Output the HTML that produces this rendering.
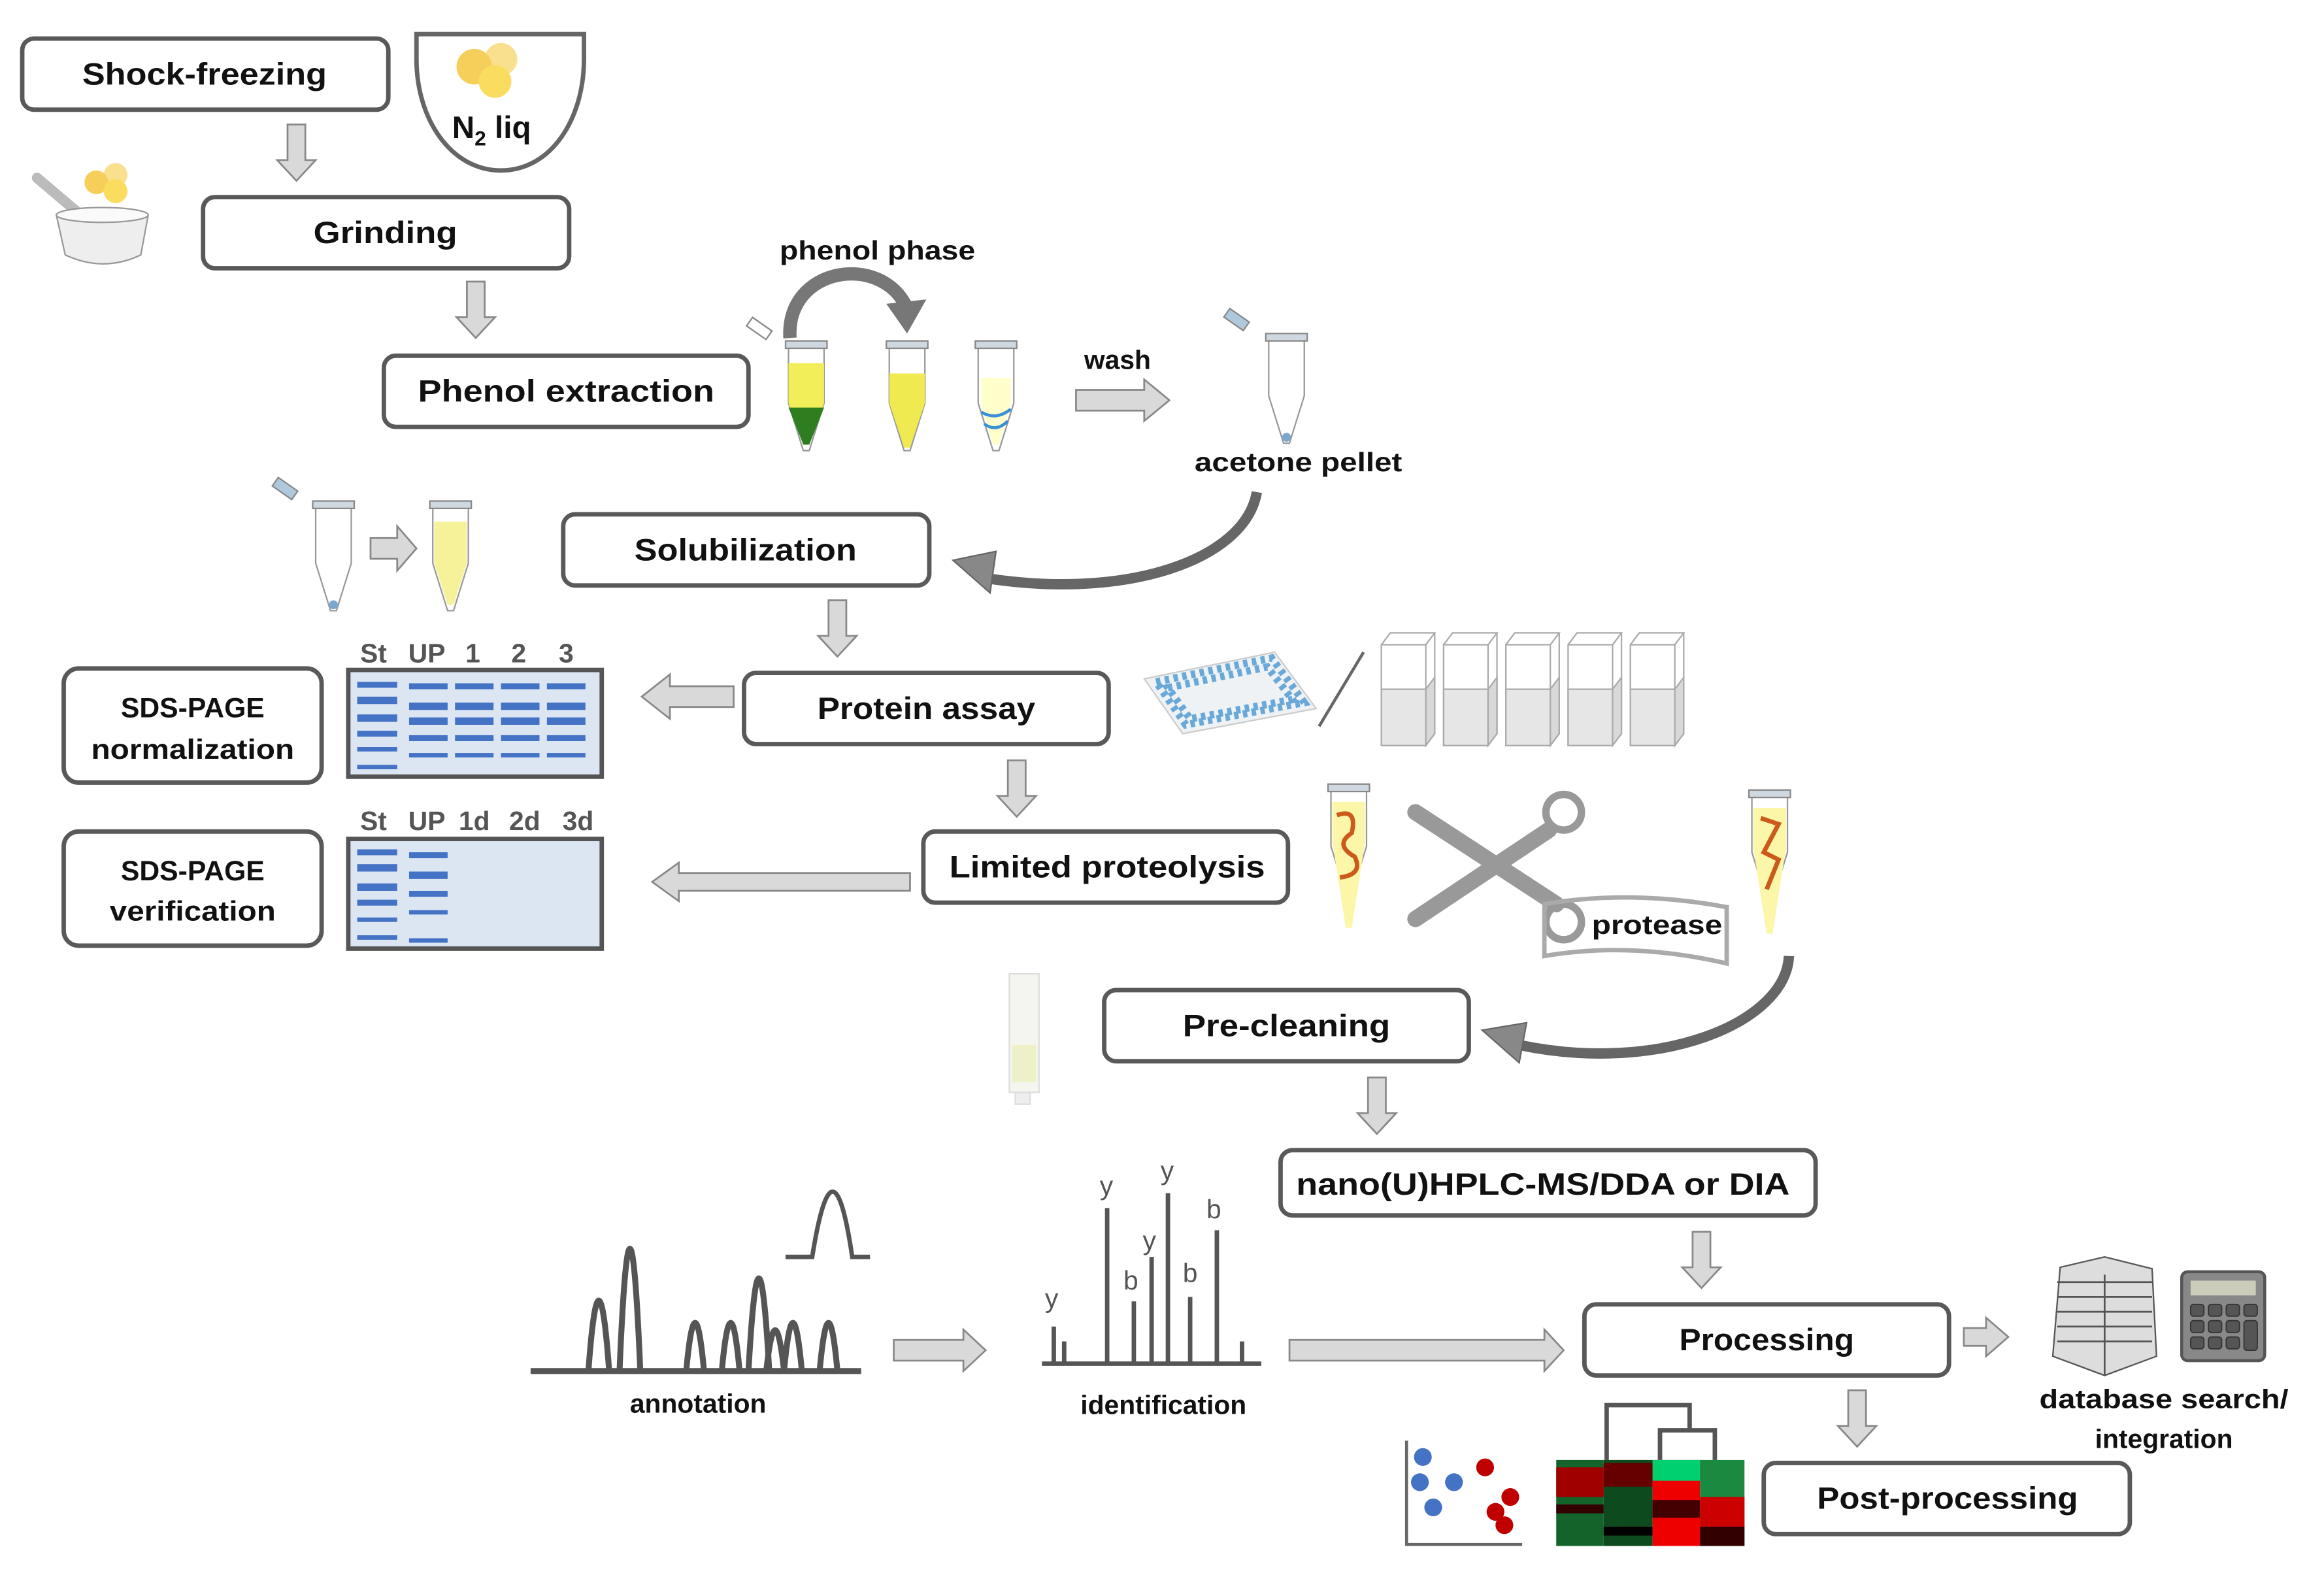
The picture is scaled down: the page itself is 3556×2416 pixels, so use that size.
<!DOCTYPE html>
<html><head><meta charset="utf-8"><style>html,body{margin:0;padding:0;background:#fff}svg{display:block}</style></head><body>
<svg xmlns="http://www.w3.org/2000/svg" width="3556" height="2416" viewBox="0 0 1568 1065.3" preserveAspectRatio="none" font-family="Liberation Sans, sans-serif">
<defs>
<g id="tube"><path d="M-12,0 L12,0 L12,38 L2,70 L-2,70 L-12,38 Z" fill="#fff" stroke="#999" stroke-width="1"/><rect x="-14" y="-4" width="28" height="5" fill="#cfd8e0" stroke="#888" stroke-width="1"/></g>
</defs>
<rect width="1568" height="1066" fill="#fff"/>
<g fill="#fff" stroke="#595959" stroke-width="3">
<rect x="15" y="26" width="247" height="48" rx="8"/>
<rect x="137" y="133" width="247" height="48" rx="8"/>
<rect x="259" y="240" width="246" height="48" rx="8"/>
<rect x="380" y="347" width="247" height="48" rx="8"/>
<rect x="502" y="454" width="246" height="48" rx="8"/>
<rect x="623" y="561" width="246" height="48" rx="8"/>
<rect x="745" y="668" width="246" height="48" rx="8"/>
<rect x="864" y="776" width="361" height="44" rx="8"/>
<rect x="1069" y="880" width="246" height="48" rx="8"/>
<rect x="1190" y="987" width="247" height="48" rx="8"/>
<rect x="43" y="451" width="174" height="77" rx="10"/>
<rect x="43" y="561" width="174" height="77" rx="10"/>
</g>
<g font-weight="bold" font-size="21" text-anchor="middle" fill="#111">
<text x="138" y="57" textLength="165" lengthAdjust="spacingAndGlyphs">Shock-freezing</text>
<text x="260" y="164" textLength="97" lengthAdjust="spacingAndGlyphs">Grinding</text>
<text x="382" y="271" textLength="200" lengthAdjust="spacingAndGlyphs">Phenol  extraction</text>
<text x="503" y="378" textLength="150" lengthAdjust="spacingAndGlyphs">Solubilization</text>
<text x="625" y="485" textLength="147" lengthAdjust="spacingAndGlyphs">Protein assay</text>
<text x="747" y="592" textLength="213" lengthAdjust="spacingAndGlyphs">Limited proteolysis</text>
<text x="868" y="699" textLength="140" lengthAdjust="spacingAndGlyphs">Pre-cleaning</text>
<text x="1041" y="806" textLength="333" lengthAdjust="spacingAndGlyphs">nano(U)HPLC-MS/DDA or DIA</text>
<text x="1192" y="911" textLength="118" lengthAdjust="spacingAndGlyphs">Processing</text>
<text x="1314" y="1018" textLength="176" lengthAdjust="spacingAndGlyphs">Post-processing</text>
<g font-size="19"><text x="130" y="484" textLength="97" lengthAdjust="spacingAndGlyphs">SDS-PAGE</text><text x="130" y="512" textLength="137" lengthAdjust="spacingAndGlyphs">normalization</text>
<text x="130" y="594" textLength="97" lengthAdjust="spacingAndGlyphs">SDS-PAGE</text><text x="130" y="621" textLength="112" lengthAdjust="spacingAndGlyphs">verification</text></g>
<g font-size="18"><text x="592" y="175" textLength="132" lengthAdjust="spacingAndGlyphs">phenol phase</text>
<text x="754" y="249">wash</text>
<text x="876" y="318" textLength="140" lengthAdjust="spacingAndGlyphs">acetone pellet</text>
<text x="1118" y="630" textLength="88" lengthAdjust="spacingAndGlyphs">protease</text>
<text x="471" y="953">annotation</text>
<text x="785" y="954">identification</text>
<text x="1460" y="950" textLength="168" lengthAdjust="spacingAndGlyphs">database search/</text>
<text x="1460" y="977">integration</text></g>
</g>
<g fill="#d9d9d9" stroke="#888" stroke-width="1.2">
<path d="M-6,0 H6 V24 H13 L0,38 L-13,24 H-6 Z" transform="translate(200,84)"/>
<path d="M-6,0 H6 V24 H13 L0,38 L-13,24 H-6 Z" transform="translate(321,190)"/>
<path d="M-6,0 H6 V24 H13 L0,38 L-13,24 H-6 Z" transform="translate(565,405)"/>
<path d="M-6,0 H6 V24 H13 L0,38 L-13,24 H-6 Z" transform="translate(686,513)"/>
<path d="M-6,0 H6 V24 H13 L0,38 L-13,24 H-6 Z" transform="translate(929,727)"/>
<path d="M-6,0 H6 V24 H13 L0,38 L-13,24 H-6 Z" transform="translate(1148,831)"/>
<path d="M-6,0 H6 V24 H13 L0,38 L-13,24 H-6 Z" transform="translate(1253,938)"/>
<path d="M250,363 H268 V355 L281,370 L268,385 V377 H250 Z"/>
<path d="M726,263 H772 V256 L789,270 L772,284 V277 H726 Z"/>
<path d="M603,904 H650 V897 L665,911 L650,925 V918 H603 Z"/>
<path d="M870,904 H1042 V897 L1055,911 L1042,925 V918 H870 Z"/>
<path d="M1325,896 H1340 V889 L1355,902 L1340,915 V908 H1325 Z"/>
<path d="M495,463 H452 V455 L433,470 L452,485 V477 H495 Z"/>
<path d="M614,589 H458 V582 L440,595 L458,608 V601 H614 Z"/>
</g>
<path d="M281,23 H394 V40 C394,80 372,115 338,115 C304,115 281,80 281,40 Z" fill="#fff" stroke="#666" stroke-width="3"/>
<circle cx="338" cy="40" r="11" fill="#f8e08e"/><circle cx="320" cy="45" r="12" fill="#f5cf5a"/><circle cx="334" cy="55" r="11" fill="#fadc5e"/>
<text x="305" y="93" font-weight="bold" font-size="21" fill="#111">N<tspan font-size="14" dy="5">2</tspan><tspan dy="-5"> liq</tspan></text>
<line x1="25" y1="120" x2="58" y2="148" stroke="#bbb" stroke-width="7" stroke-linecap="round"/>
<path d="M38,145 H100 L95,172 Q70,184 44,172 Z" fill="#eee" stroke="#999"/>
<ellipse cx="69" cy="145" rx="31" ry="5" fill="#fafafa" stroke="#999"/>
<circle cx="78" cy="118" r="8" fill="#f8e08e"/><circle cx="65" cy="123" r="8" fill="#f5cf5a"/><circle cx="78" cy="129" r="8" fill="#fadc5e"/>
<use href="#tube" x="544" y="234"/><path d="M532,245 H556 V272 L546,300 H542 L532,272 Z" fill="#f1ee5a"/><path d="M532,275 H556 L546,300 H542 Z" fill="#2e7d1f"/>
<rect x="504" y="218" width="16" height="7" fill="#fff" stroke="#888" transform="rotate(35 512 222)"/>
<use href="#tube" x="612" y="234"/><path d="M600,252 H624 V272 L614,302 H610 L600,272 Z" fill="#eeea50"/>
<use href="#tube" x="672" y="234"/><path d="M662,255 H682 V272 L674,300 H670 L662,272 Z" fill="#ffffcc"/><path d="M662,278 Q672,284 682,276 M664,286 Q672,292 680,284" stroke="#3b8fd6" stroke-width="2" fill="none"/>
<path d="M533,228 C530,180 595,170 612,208" stroke="#777" stroke-width="9" fill="none"/><path d="M598,205 L612,225 L625,202 Z" fill="#777"/>
<use href="#tube" x="868" y="229"/><ellipse cx="868" cy="295" rx="3" ry="3" fill="#7ba7cf"/><rect x="826" y="212" width="16" height="7" fill="#b0c8dc" stroke="#888" transform="rotate(35 834 216)"/>
<path d="M848,332 C840,378 760,405 665,390" stroke="#666" stroke-width="7" fill="none"/><path d="M643,378 L672,372 L668,400 Z" fill="#888" stroke="#666"/>
<use href="#tube" x="225" y="342"/><ellipse cx="225" cy="408" rx="3" ry="3" fill="#7ba7cf"/><rect x="184" y="326" width="16" height="7" fill="#b0c8dc" stroke="#888" transform="rotate(35 192 330)"/>
<use href="#tube" x="304" y="342"/><path d="M293,352 H315 V380 L306,408 H302 L293,380 Z" fill="#f6f29a"/>
<g stroke="#555" stroke-width="3" fill="#dce6f2"><rect x="235" y="452" width="171" height="72"/><rect x="235" y="566" width="171" height="74"/></g>
<g fill="#4472c4">
<rect x="241" y="460" width="27" height="4"/><rect x="241" y="470" width="27" height="5"/><rect x="241" y="482" width="27" height="5"/><rect x="241" y="493" width="27" height="4"/><rect x="241" y="504" width="27" height="3"/><rect x="241" y="516" width="27" height="3"/>
<g id="ln"><rect x="276" y="461" width="26" height="4"/><rect x="276" y="474" width="26" height="5"/><rect x="276" y="484" width="26" height="5"/><rect x="276" y="496" width="26" height="4"/><rect x="276" y="508" width="26" height="3"/></g>
<use href="#ln" x="31"/><use href="#ln" x="62"/><use href="#ln" x="93"/>
<rect x="241" y="573" width="27" height="4"/><rect x="241" y="583" width="27" height="5"/><rect x="241" y="596" width="27" height="5"/><rect x="241" y="607" width="27" height="4"/><rect x="241" y="619" width="27" height="3"/><rect x="241" y="631" width="27" height="3"/>
<rect x="276" y="575" width="26" height="4"/><rect x="276" y="588" width="26" height="5"/><rect x="276" y="601" width="26" height="4"/><rect x="276" y="614" width="26" height="3"/><rect x="276" y="633" width="26" height="3"/>
</g>
<g font-size="18" font-weight="bold" fill="#555" text-anchor="middle">
<text x="252" y="447">St</text><text x="288" y="447">UP</text><text x="319" y="447">1</text><text x="350" y="447">2</text><text x="382" y="447">3</text>
<text x="252" y="560">St</text><text x="288" y="560">UP</text><text x="320" y="560">1d</text><text x="354" y="560">2d</text><text x="390" y="560">3d</text>
</g>
<path d="M772,458 L860,440 L888,478 L798,495 Z" fill="#eef2f5" stroke="#ccc"/>
<path d="M780,460 L858,444 L880,474 L800,489 Z" fill="none" stroke="#6aa8d8" stroke-width="5" stroke-dasharray="3 3"/><path d="M788,464 L855,450 L872,472 L803,485 Z" fill="none" stroke="#6aa8d8" stroke-width="5" stroke-dasharray="3 3"/>
<line x1="890" y1="490" x2="920" y2="440" stroke="#666" stroke-width="2"/>
<g stroke="#aaa" stroke-width="1" fill="none">
<g id="cuv"><rect x="932" y="435" width="30" height="68"/><path d="M932,435 L938,427 H968 L962,435 M968,427 V495 L962,503"/><rect x="932" y="465" width="30" height="38" fill="#e6e6e6"/><path d="M962,465 L968,457 V495 L962,503 Z" fill="#d8d8d8"/></g>
<use href="#cuv" x="42"/><use href="#cuv" x="84"/><use href="#cuv" x="126"/><use href="#cuv" x="168"/>
</g>
<use href="#tube" x="910" y="533"/><path d="M899,541 H921 V568 L912,626 H908 L899,568 Z" fill="#fbf6a8"/><path d="M902,550 Q916,545 912,562 Q900,570 914,578 Q920,590 904,592" stroke="#cc5a1a" stroke-width="3" fill="none"/>
<use href="#tube" x="1194" y="537"/><path d="M1183,545 H1205 V572 L1196,630 H1192 L1183,572 Z" fill="#fbf6a8"/><path d="M1188,552 L1200,556 L1190,575 L1200,580 L1192,600" stroke="#cc5a1a" stroke-width="3" fill="none"/>
<path d="M955,548 L1050,610 M955,620 L1045,560" stroke="#999" stroke-width="11" stroke-linecap="round"/>
<circle cx="1055" cy="548" r="12" fill="none" stroke="#999" stroke-width="5"/><circle cx="1055" cy="622" r="12" fill="none" stroke="#999" stroke-width="5"/>
<path d="M1042,610 Q1100,600 1165,612 V650 Q1100,635 1042,645 Z" fill="none" stroke="#aaa" stroke-width="3"/>
<path d="M1207,645 C1205,690 1120,725 1025,705" stroke="#666" stroke-width="7" fill="none"/><path d="M1000,695 L1030,690 L1025,717 Z" fill="#888" stroke="#666"/>
<rect x="681" y="657" width="20" height="80" fill="#f5f5f0" stroke="#ddd"/><rect x="683" y="705" width="16" height="25" fill="#eef0c8"/><rect x="685" y="737" width="10" height="8" fill="#eee" stroke="#ddd"/>
<g stroke="#555" stroke-width="4" fill="none">
<line x1="358" y1="925" x2="581" y2="925"/>
<path d="M397,925 Q404,830 411,925 M418,925 Q425,760 432,925 M463,925 Q469,860 475,925 M487,925 Q493,860 499,925 M505,925 Q512,800 519,925 M517,925 Q523,870 529,925 M529,925 Q535,860 541,925 M553,925 Q559,860 565,925"/>
<path d="M530,848 H548 Q562,760 575,848 H587" stroke-width="3"/>
</g>
<g stroke="#555" stroke-width="3">
<line x1="703" y1="920" x2="851" y2="920"/>
<line x1="711" y1="920" x2="711" y2="895"/><line x1="718" y1="920" x2="718" y2="905"/><line x1="747" y1="920" x2="747" y2="815"/><line x1="765" y1="920" x2="765" y2="878"/><line x1="777" y1="920" x2="777" y2="848"/><line x1="788" y1="920" x2="788" y2="805"/><line x1="803" y1="920" x2="803" y2="875"/><line x1="821" y1="920" x2="821" y2="830"/><line x1="838" y1="920" x2="838" y2="905"/>
</g>
<g font-size="18" fill="#555"><text x="742" y="806">y</text><text x="783" y="796">y</text><text x="771" y="843">y</text><text x="758" y="870">b</text><text x="798" y="865">b</text><text x="814" y="822">b</text><text x="705" y="882">y</text></g>
<path d="M1390,855 L1420,848 L1452,856 L1455,915 L1420,928 L1385,915 Z" fill="#ddd" stroke="#555"/>
<path d="M1388,865 H1452 M1388,875 H1452 M1388,885 H1452 M1388,895 H1452 M1388,905 H1452 M1420,860 V928" stroke="#555" stroke-width="1.2"/>
<rect x="1472" y="858" width="56" height="60" rx="4" fill="#888" stroke="#555" stroke-width="2"/><rect x="1478" y="864" width="44" height="10" fill="#ccccbb"/>
<g fill="#555" stroke="#333" stroke-width="0.8"><rect x="1478" y="880" width="9" height="8" rx="2"/><rect x="1490" y="880" width="9" height="8" rx="2"/><rect x="1502" y="880" width="9" height="8" rx="2"/><rect x="1514" y="880" width="9" height="8" rx="2"/><rect x="1478" y="891" width="9" height="8" rx="2"/><rect x="1490" y="891" width="9" height="8" rx="2"/><rect x="1502" y="891" width="9" height="8" rx="2"/><rect x="1514" y="891" width="9" height="20" rx="2"/><rect x="1478" y="902" width="9" height="8" rx="2"/><rect x="1490" y="902" width="9" height="8" rx="2"/><rect x="1502" y="902" width="9" height="8" rx="2"/></g>
<path d="M949,972 V1042 H1027" stroke="#666" stroke-width="2" fill="none"/>
<g fill="#4472c4"><circle cx="960" cy="983" r="6"/><circle cx="958" cy="1000" r="6"/><circle cx="981" cy="1000" r="6"/><circle cx="967" cy="1017" r="6"/></g>
<g fill="#c00000"><circle cx="1002" cy="990" r="6"/><circle cx="1019" cy="1010" r="6"/><circle cx="1009" cy="1020" r="6"/><circle cx="1015" cy="1029" r="6"/></g>
<path d="M1084,985 V948 H1140 V965 M1120,985 V965 H1157 V985" stroke="#555" stroke-width="3" fill="none"/>
<rect x="1050" y="985" width="32" height="58" fill="#14632b"/><rect x="1050" y="990" width="32" height="20" fill="#a00000"/><rect x="1050" y="1015" width="32" height="6" fill="#300"/>
<rect x="1082" y="985" width="33" height="58" fill="#0d4a1e"/><rect x="1082" y="987" width="33" height="16" fill="#600"/><rect x="1082" y="1030" width="33" height="6" fill="#000"/>
<rect x="1115" y="985" width="32" height="58" fill="#ee0000"/><rect x="1115" y="985" width="32" height="14" fill="#00d070"/><rect x="1115" y="1012" width="32" height="12" fill="#400"/>
<rect x="1147" y="985" width="30" height="58" fill="#1a8a40"/><rect x="1147" y="1010" width="30" height="20" fill="#cc0000"/><rect x="1147" y="1030" width="30" height="13" fill="#300"/>
</svg>
</body></html>
